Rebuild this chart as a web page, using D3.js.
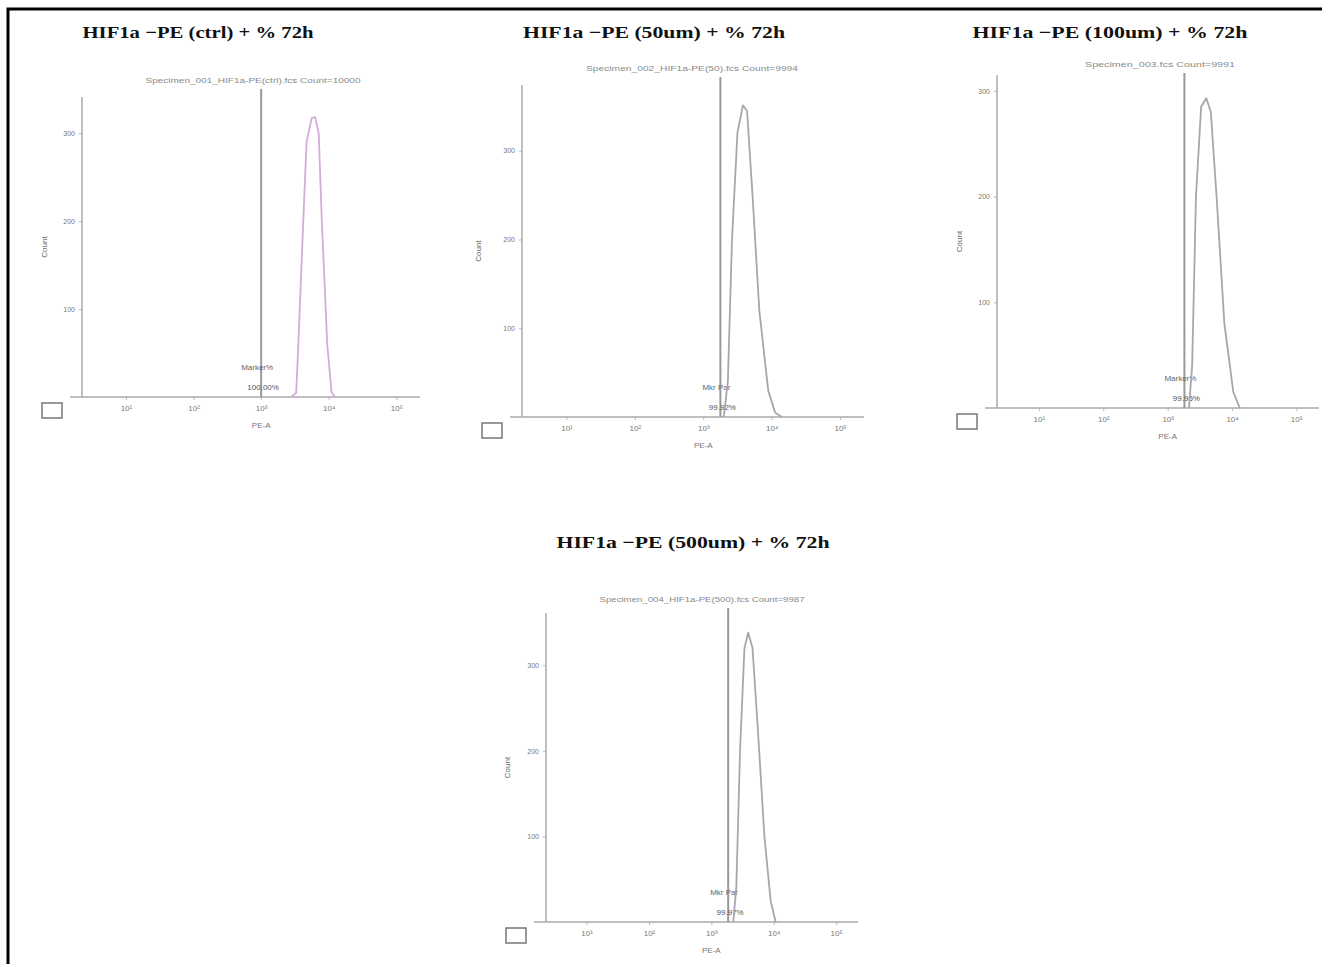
<!DOCTYPE html>
<html>
<head>
<meta charset="utf-8">
<script src="https://cdn.jsdelivr.net/npm/d3@7/dist/d3.min.js"></script>
<style>
  html, body { margin: 0; padding: 0; background: #fff; }
  svg { display: block; }
</style>
</head>
<body>
<svg id="chart" width="1322" height="964"></svg>
<script>
// ---- data ----
const panelTitles = [
  "HIF1a \u2212PE (ctrl) + % 72h",
  "HIF1a \u2212PE (50um) + % 72h",
  "HIF1a \u2212PE (100um) + % 72h",
  "HIF1a \u2212PE (500um) + % 72h"
];
const panelNotes = [
  "Specimen_001_HIF1a-PE(ctrl).fcs  Count=10000",
  "Specimen_002_HIF1a-PE(50).fcs  Count=9994",
  "Specimen_003.fcs  Count=9991",
  "Specimen_004_HIF1a-PE(500).fcs  Count=9987"
];
const xAxisLabel = "PE-A";
const yAxisLabel = "Count";
const xTickValues = [10, 100, 1000, 10000, 100000];
const xTickLabels = ["10\u00b9", "10\u00b2", "10\u00b3", "10\u2074", "10\u2075"];
const xDomain = [Math.pow(10, 0.35), Math.pow(10, 5.35)];
const yTickValues = [100, 200, 300];
const yMax = [341, 374, 315, 361];
const gateValues = [1000, 1780, 1820, 1860];
const gateLabelsTop = ["Marker%", "Mkr  Par", "Marker%", "Mkr  Par"];
const gateLabelsBottom = ["100.00%", "99.92%", "99.95%", "99.97%"];

// PE-A channel values and event counts for each histogram
const ctrlChannel  = [2820, 3300, 3550, 4200, 4700, 5600, 6300, 7100, 7900, 9500, 11000, 12600];
const ctrlCount    = [0, 5, 60, 200, 290, 317, 318, 300, 200, 60, 5, 0];
const um50Channel  = [1995, 2290, 2630, 3160, 3800, 4370, 5250, 6600, 8900, 11200, 14100];
const um50Count    = [0, 40, 200, 320, 351, 345, 250, 120, 30, 5, 0];
const um100Channel = [2140, 2400, 2750, 3310, 3980, 4680, 5750, 7590, 10470, 13180];
const um100Count   = [0, 40, 200, 285, 293, 280, 200, 80, 15, 0];
const um500Channel = [2240, 2510, 2880, 3390, 3890, 4570, 5620, 7080, 8910, 10720];
const um500Count   = [0, 40, 200, 320, 338, 320, 220, 100, 25, 0];

const histograms = [
  { channel: ctrlChannel,  count: ctrlCount },
  { channel: um50Channel,  count: um50Count },
  { channel: um100Channel, count: um100Count },
  { channel: um500Channel, count: um500Count }
];

// ---- layout ----
const layout = [
  { x0: 82,  w: 338, base: 397, top: 97,  tx: 198,  ty: 38,  tw: 231, nx: 253,  ny: 83,  nw: 215, ylx: 47,  color: "#d3acd8" },
  { x0: 522, w: 342, base: 417, top: 85,  tx: 654,  ty: 38,  tw: 262, nx: 692,  ny: 71,  nw: 212, ylx: 481, color: "#a9a4ae" },
  { x0: 997, w: 322, base: 408, top: 75,  tx: 1110, ty: 38,  tw: 275, nx: 1160, ny: 67,  nw: 150, ylx: 962, color: "#a9a4ae" },
  { x0: 546, w: 312, base: 922, top: 613, tx: 693,  ty: 548, tw: 273, nx: 702,  ny: 602, nw: 205, ylx: 510, color: "#aba4b0" }
];

const sans = "Liberation Sans, Arial, sans-serif";
const svg = d3.select("#chart");

// outer frame (top and left edges)
svg.append("path")
  .attr("d", "M8,964 V9 H1322")
  .attr("fill", "none")
  .attr("stroke", "#000")
  .attr("stroke-width", 3);

layout.forEach((L, i) => {
  const g = svg.append("g");
  const x = d3.scaleLog().domain(xDomain).range([L.x0, L.x0 + L.w]);
  const y = d3.scaleLinear().domain([0, yMax[i]]).range([L.base, L.top]);

  // title
  g.append("text")
    .attr("x", L.tx).attr("y", L.ty)
    .attr("text-anchor", "middle")
    .attr("font-family", "Liberation Serif, DejaVu Serif, serif")
    .attr("font-weight", "bold")
    .attr("font-size", 17)
    .attr("textLength", L.tw)
    .attr("lengthAdjust", "spacingAndGlyphs")
    .attr("fill", "#111")
    .text(panelTitles[i]);

  // sample note
  g.append("text")
    .attr("x", L.nx).attr("y", L.ny)
    .attr("text-anchor", "middle")
    .attr("font-family", sans)
    .attr("font-size", 8)
    .attr("textLength", L.nw)
    .attr("lengthAdjust", "spacingAndGlyphs")
    .attr("fill", "#8a8a8a")
    .text(panelNotes[i]);

  // x axis
  const xAxis = d3.axisBottom(x)
    .tickValues(xTickValues)
    .tickFormat((d, k) => xTickLabels[k])
    .tickSize(3)
    .tickPadding(5);
  const gx = g.append("g")
    .attr("transform", `translate(0,${L.base})`)
    .call(xAxis);
  gx.select(".domain").remove();
  gx.selectAll(".tick line").attr("stroke", "#bbb");
  gx.selectAll(".tick text")
    .attr("font-family", sans)
    .attr("font-size", 8)
    .attr("fill", "#777");
  g.append("line")
    .attr("x1", L.x0 - 12).attr("x2", L.x0 + L.w)
    .attr("y1", L.base).attr("y2", L.base)
    .attr("stroke", "#aaa").attr("stroke-width", 1.5);

  // y axis
  const yAxis = d3.axisLeft(y)
    .tickValues(yTickValues)
    .tickSize(3)
    .tickPadding(4);
  const gy = g.append("g")
    .attr("transform", `translate(${L.x0},0)`)
    .call(yAxis);
  gy.select(".domain").remove();
  gy.selectAll(".tick line").attr("stroke", "#bbb");
  gy.selectAll(".tick text")
    .attr("font-family", sans)
    .attr("font-size", 7)
    .attr("fill", "#777");
  g.append("line")
    .attr("x1", L.x0).attr("x2", L.x0)
    .attr("y1", L.base).attr("y2", L.top)
    .attr("stroke", "#aaa").attr("stroke-width", 1.5);

  // axis labels
  g.append("text")
    .attr("x", x(xTickValues[2]))
    .attr("y", L.base + 31)
    .attr("text-anchor", "middle")
    .attr("font-family", sans)
    .attr("font-size", 8)
    .attr("fill", "#777")
    .text(xAxisLabel);
  g.append("text")
    .attr("transform", `translate(${L.ylx},${(L.base + L.top) / 2}) rotate(-90)`)
    .attr("text-anchor", "middle")
    .attr("font-family", sans)
    .attr("font-size", 8)
    .attr("fill", "#666")
    .text(yAxisLabel);

  // small origin box
  g.append("rect")
    .attr("x", L.x0 - 40).attr("y", L.base + 6)
    .attr("width", 20).attr("height", 15)
    .attr("fill", "none")
    .attr("stroke", "#777").attr("stroke-width", 1.5);

  // gate marker
  const gx0 = x(gateValues[i]);
  g.append("line")
    .attr("x1", gx0).attr("x2", gx0)
    .attr("y1", L.ny + 6).attr("y2", L.base)
    .attr("stroke", "#999").attr("stroke-width", 2);
  g.append("text")
    .attr("x", gx0 - 4).attr("y", L.base - 27)
    .attr("text-anchor", "middle")
    .attr("font-family", sans)
    .attr("font-size", 8)
    .attr("fill", "#666")
    .text(gateLabelsTop[i]);
  g.append("text")
    .attr("x", gx0 + 2).attr("y", L.base - 7)
    .attr("text-anchor", "middle")
    .attr("font-family", sans)
    .attr("font-size", 8)
    .attr("fill", "#555")
    .text(gateLabelsBottom[i]);

  // histogram
  const h = histograms[i];
  const pts = h.channel.map((c, k) => [c, h.count[k]]);
  g.append("path")
    .datum(pts)
    .attr("d", d3.line().x(d => x(d[0])).y(d => y(d[1])))
    .attr("fill", "none")
    .attr("stroke", L.color)
    .attr("stroke-width", 1.8)
    .attr("stroke-linejoin", "round");
});
</script>
</body>
</html>
